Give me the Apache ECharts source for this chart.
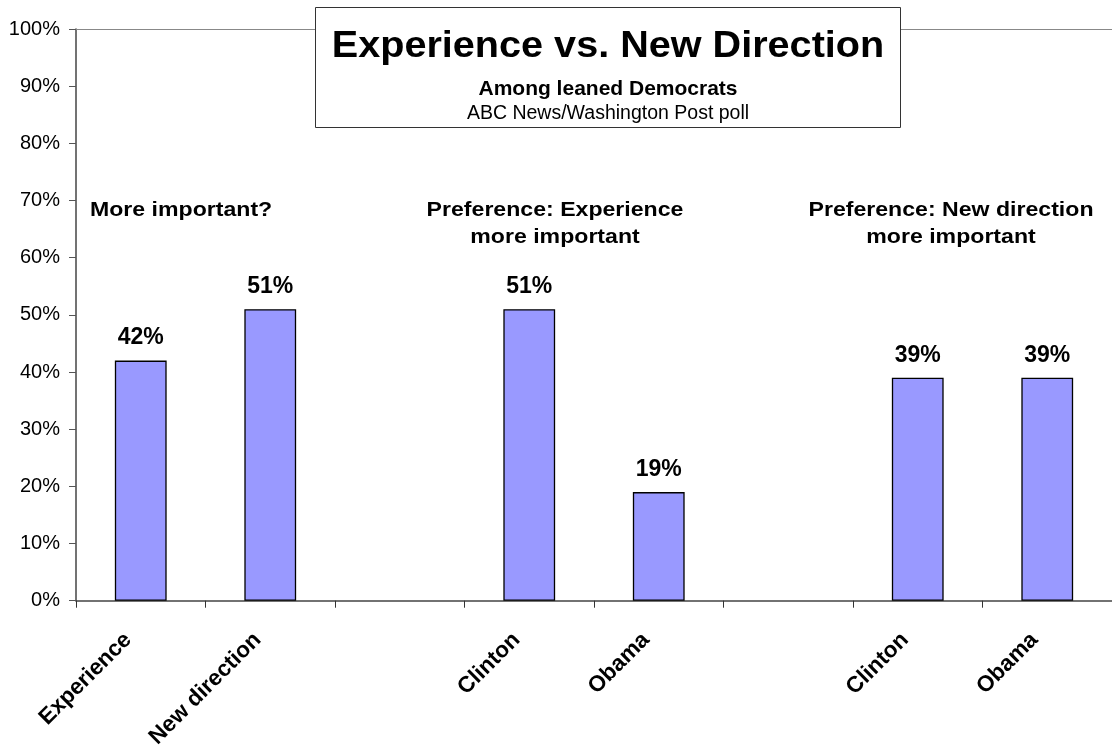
<!DOCTYPE html>
<html>
<head>
<meta charset="utf-8">
<script src="https://cdn.jsdelivr.net/npm/echarts@6/dist/echarts.min.js"></script>
<style>
  html, body { margin: 0; padding: 0; background: #fff; }
  #chart { width: 1112px; height: 751px; }
</style>
</head>
<body>
<div id="chart"></div>
<script>
// Categories (empty strings are spacer slots between the three groups)
const categories = ['Experience', 'New direction', '', 'Clinton', 'Obama', '', 'Clinton', 'Obama'];
// Percent values per category (null = no bar)
const values = [42, 51, null, 51, 19, null, 39, 39];
// Y-axis tick values
const yTicks = [0, 10, 20, 30, 40, 50, 60, 70, 80, 90, 100];

const titleText = 'Experience vs. New Direction';
const subtitleText = 'Among leaned Democrats';
const sourceText = 'ABC News/Washington Post poll';
const groupHeads = [
  { text: 'More important?', x: 90, align: 'left' },
  { text: 'Preference: Experience\nmore important', x: 555, align: 'center' },
  { text: 'Preference: New direction\nmore important', x: 951, align: 'center' }
];

const FONT = 'Arial, "Liberation Sans", sans-serif';
const chart = echarts.init(document.getElementById('chart'), null, { renderer: 'canvas' });

chart.setOption({
  animation: false,
  backgroundColor: '#ffffff',
  grid: { left: 76, top: 29, bottom: 149, right: -6, containLabel: false },
  xAxis: {
    type: 'category',
    data: categories,
    boundaryGap: true,
    axisLine: { lineStyle: { color: '#444', width: 1.5 } },
    axisTick: { show: true, length: 7, lineStyle: { color: '#333' } },
    axisLabel: {
      rotate: 45, interval: 0, margin: 23, padding: [0, 18, 0, 0],
      color: '#000', fontFamily: FONT, fontWeight: 'bold', fontSize: 22.5
    },
    splitLine: { show: false }
  },
  yAxis: {
    type: 'value',
    min: yTicks[0], max: yTicks[yTicks.length - 1], interval: 10,
    axisLine: { show: true, lineStyle: { color: '#444', width: 1.5 } },
    axisTick: { show: true, length: 7, lineStyle: { color: '#555' } },
    axisLabel: {
      color: '#000', fontFamily: FONT, fontSize: 20, margin: 16,
      formatter: v => v + '%'
    },
    splitLine: { show: false }
  },
  series: [{
    type: 'bar',
    data: values,
    barWidth: '40%',
    itemStyle: { color: '#9999FF', borderColor: '#000', borderWidth: 1.3 },
    label: {
      show: true, position: 'top', distance: 11,
      color: '#000', fontFamily: FONT, fontWeight: 'bold', fontSize: 23,
      formatter: p => p.value + '%'
    },
    markLine: {
      silent: true, symbol: 'none', label: { show: false },
      lineStyle: { color: '#888', type: 'solid', width: 1.2 },
      data: [{ yAxis: 100 }]
    }
  }],
  graphic: [
    {
      type: 'rect', z: 10,
      shape: { x: 315.5, y: 7.5, width: 585, height: 120 },
      style: { fill: '#fff', stroke: '#333', lineWidth: 1 }
    },
    {
      type: 'text', z: 11, x: 608, y: 47, scaleX: 1.1, scaleY: 1,
      style: { text: titleText, textAlign: 'center', textVerticalAlign: 'middle', fill: '#000', font: 'bold 36px ' + FONT }
    },
    {
      type: 'text', z: 11, x: 608, y: 89,
      style: { text: subtitleText, textAlign: 'center', textVerticalAlign: 'middle', fill: '#000', font: 'bold 21px ' + FONT }
    },
    {
      type: 'text', z: 11, x: 608, y: 114,
      style: { text: sourceText, textAlign: 'center', textVerticalAlign: 'middle', fill: '#000', font: '19.5px ' + FONT }
    }
  ].concat(groupHeads.map(g => ({
    type: 'text', z: 11, x: g.x, y: 197, scaleX: 1.1, scaleY: 1,
    style: { text: g.text, textAlign: g.align, textVerticalAlign: 'top', fill: '#000', font: 'bold 21px ' + FONT, lineHeight: 27 }
  })))
});
</script>
</body>
</html>
